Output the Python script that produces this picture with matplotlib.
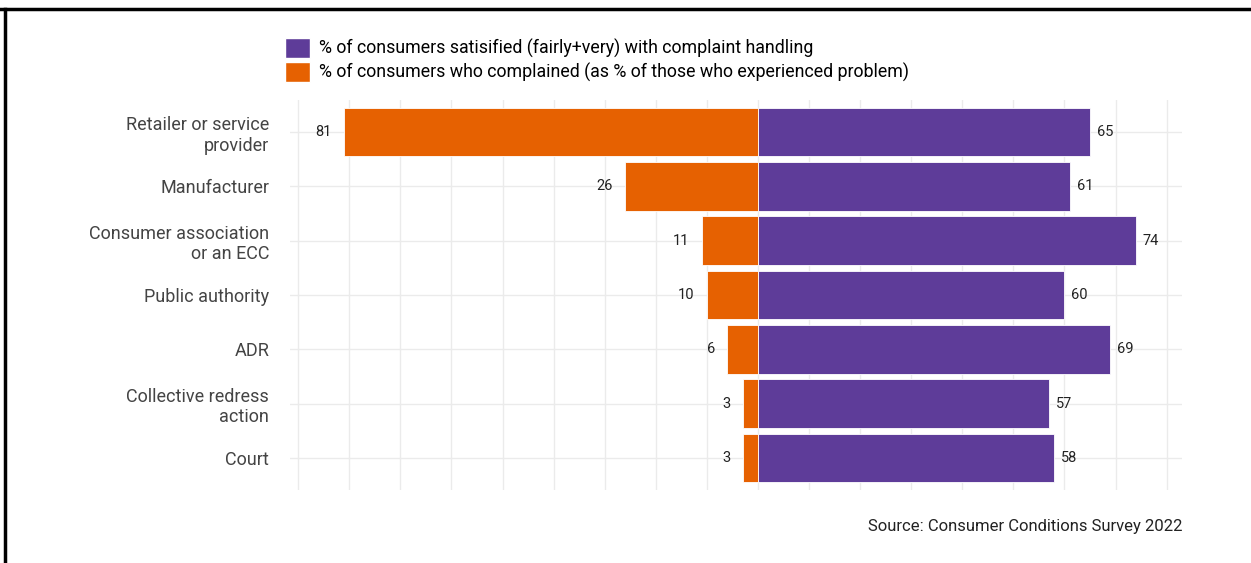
#!/usr/bin/env python3

import matplotlib
import numpy as np
import pylab as plt
from matplotlib.lines import Line2D
from matplotlib.patches import Patch

matplotlib.use('Agg')
plt.rcParams['font.family'] = ['Roboto', 'DejaVu Sans']

categories = ['Retailer or service\nprovider', 'Manufacturer', 'Consumer association\nor an ECC',
              'Public authority', 'ADR', 'Collective redress\naction', 'Court']
satisfied = [65, 61, 74, 60, 69, 57, 58]
complained = [81, 26, 11, 10, 6, 3, 3]
label_sat = '% of consumers satisified (fairly+very) with complaint handling'
label_comp = '% of consumers who complained (as % of those who experienced problem)'
source = 'Source: Consumer Conditions Survey 2022'

purple = '#5E3C99'
orange = '#E66101'
grid_col = '#EBEBEB'
text_col = '#444444'

fig = plt.figure(figsize=(12.51, 5.63), dpi=100)
ax = fig.add_axes([290 / 1251, 1 - 490 / 563, 892 / 1251, 390 / 563])

y = np.arange(len(categories))
ax.barh(y, satisfied, height=0.9, color=purple, edgecolor='white', linewidth=0.6, zorder=3)
ax.barh(y, [-c for c in complained], height=0.9, color=orange, edgecolor='white', linewidth=0.6, zorder=3)

for yi, s, c in zip(y, satisfied, complained):
    ax.annotate(str(s), (s, yi), xytext=(5, 0), textcoords='offset points',
                ha='left', va='center', fontsize=10.5, color='#222222')
    ax.annotate(str(c), (-c, yi), xytext=(-9, 0), textcoords='offset points',
                ha='right', va='center', fontsize=10.5, color='#222222')

ax.set_xlim(-91.6, 83)
ax.set_ylim(len(categories) - 0.41, -0.59)
ax.set_xticks(np.arange(-90, 81, 10))
ax.set_xticklabels([])
ax.set_yticks(y)
ax.set_yticklabels(categories, fontsize=13, color=text_col, linespacing=1.2)
ax.tick_params(axis='both', length=0, pad=15)
ax.grid(True, color=grid_col, linewidth=1, zorder=0)
for sp in ax.spines.values():
    sp.set_visible(False)

handles = [Patch(facecolor=purple, edgecolor='white', label=label_sat),
           Patch(facecolor=orange, edgecolor='white', label=label_comp)]
fig.legend(handles=handles, loc='upper left', bbox_to_anchor=(282 / 1251, 1 - 35 / 563),
           frameon=False, fontsize=12.8, handlelength=1.4, handleheight=1.4,
           labelspacing=0.2, handletextpad=0.55, borderaxespad=0, borderpad=0.15)

fig.text(1182 / 1251, 1 - 527 / 563, source, ha='right', va='center', fontsize=12, color='#222222')

# frame around the figure (top and left edges visible in the original)
fig.add_artist(Line2D([0, 1], [1 - 9 / 563, 1 - 9 / 563], transform=fig.transFigure,
                      color='black', linewidth=2.5))
fig.add_artist(Line2D([5 / 1251, 5 / 1251], [0, 1 - 9 / 563], transform=fig.transFigure,
                      color='black', linewidth=2.5))

plt.savefig('out.png', dpi=100)
